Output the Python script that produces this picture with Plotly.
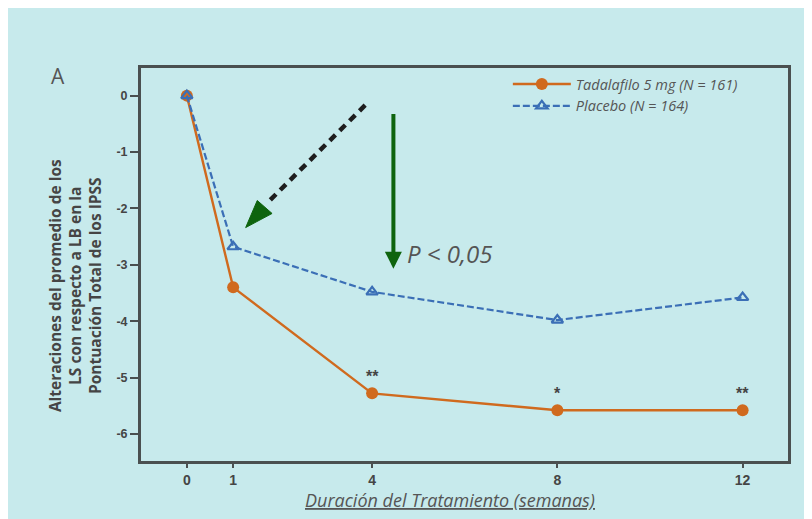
import plotly.graph_objects as go

weeks = [0, 1, 4, 8, 12]
tadalafil = [0.0, -3.4, -5.28, -5.58, -5.58]
placebo = [0.0, -2.68, -3.48, -3.98, -3.58]
tad_name = "Tadalafilo 5 mg (N = 161)"
pla_name = "Placebo (N = 164)"
sig_weeks = [4, 8, 12]
sig_marks = ["**", "*", "**"]
y_ticks = [0, -1, -2, -3, -4, -5, -6]

BG = "#c7eaec"
ORANGE = "#d06a1e"
BLUE = "#3b6fb6"
GREEN = "#0e640e"
FRAME = "#4a5050"
TXT = "#454545"

fig = go.Figure()
fig.add_trace(go.Scatter(
    x=weeks, y=tadalafil, name="<i>" + tad_name + "</i>", mode="lines+markers",
    line=dict(color=ORANGE, width=2.4),
    marker=dict(symbol="circle", size=12, color=ORANGE),
))
fig.add_trace(go.Scatter(
    x=weeks, y=placebo, name="<i>" + pla_name + "</i>", mode="lines+markers",
    line=dict(color=BLUE, width=2.2, dash="7px,3px"),
    marker=dict(symbol="triangle-up-open", size=10, color=BLUE, line=dict(width=2.2)),
))

# significance asterisks
for w, s in zip(sig_weeks, sig_marks):
    fig.add_annotation(x=w, y=tadalafil[weeks.index(w)], xref="x", yref="y",
                       text="<b>" + s + "</b>", showarrow=False, yshift=17,
                       font=dict(family="Liberation Sans", size=16, color="#444444"))

# black dashed arrow line with green head
fig.add_shape(type="line", xref="x", yref="y",
              x0=3.85, y0=-0.17, x1=1.74, y1=-1.90,
              line=dict(color="#1e1e1e", width=4.5, dash="8px,6px"))
fig.add_shape(type="path", xref="x", yref="y",
              path="M 1.27,-2.34 L 1.52,-1.86 L 1.84,-2.09 Z",
              fillcolor=GREEN, line=dict(color=GREEN, width=1))

# green vertical arrow
fig.add_annotation(x=4.46, y=-3.07, ax=4.46, ay=-0.30, xref="x", yref="y",
                   axref="x", ayref="y", text="", showarrow=True,
                   arrowhead=2, arrowsize=0.85, arrowwidth=4, arrowcolor=GREEN)
fig.add_annotation(x=4.7, y=-2.8, xref="x", yref="y", text="<i>P < 0,05</i>",
                   showarrow=False, xanchor="left", yanchor="middle",
                   font=dict(family="Open Sans", size=24, color="#555555"))

# panel letter
fig.add_annotation(x=-0.128, y=0.98, xref="paper", yref="paper", text="A",
                   showarrow=False, xanchor="center", yanchor="middle",
                   font=dict(family="Open Sans", size=21, color="#555555"))

# y axis title
fig.add_annotation(x=-0.102, y=0.445, xref="paper", yref="paper", textangle=-90,
                   text="<b>Alteraciones del promedio de los<br>LS con respecto a LB en la<br>Pontuación Total de los IPSS</b>",
                   showarrow=False, xanchor="center", yanchor="middle",
                   font=dict(family="Open Sans", size=15.5, color=TXT))

# x axis title
fig.add_annotation(x=0.478, y=-0.064, xref="paper", yref="paper",
                   text="<i><u>Duración del Tratamiento (semanas)</u></i>",
                   showarrow=False, xanchor="center", yanchor="top",
                   font=dict(family="Open Sans", size=18, color="#555555"))

# outer border
fig.add_shape(type="rect", xref="paper", yref="paper", layer="below",
              x0=-0.209, y0=-0.3, x1=1.1, y1=1.155,
              line=dict(color="#d08a70", width=1.5), fillcolor="rgba(0,0,0,0)")

fig.update_layout(
    width=804, height=511,
    margin=dict(l=133, r=24, t=60, b=58),
    paper_bgcolor=BG, plot_bgcolor=BG,
    showlegend=True,
    legend=dict(x=0.567, y=1.0, xanchor="left", yanchor="top",
                bgcolor="rgba(0,0,0,0)", tracegroupgap=0, itemwidth=58,
                font=dict(family="Open Sans", size=14.5, color="#555555")),
    xaxis=dict(range=[-0.99, 12.98], tickvals=weeks,
               ticktext=["<b>%d</b>" % w for w in weeks],
               showgrid=False, zeroline=False, showline=True, mirror=True,
               linecolor=FRAME, linewidth=3, ticks="outside", ticklen=4,
               tickcolor=FRAME, tickwidth=1.5,
               tickfont=dict(family="Liberation Sans", size=14, color=TXT)),
    yaxis=dict(range=[-6.48, 0.49], tickvals=y_ticks,
               ticktext=["<b>%d</b>" % v for v in y_ticks],
               showgrid=False, zeroline=False, showline=True, mirror=True,
               linecolor=FRAME, linewidth=3, ticks="outside", ticklen=8,
               tickcolor=FRAME, tickwidth=1.5,
               tickfont=dict(family="Liberation Sans", size=12.5, color=TXT)),
)

fig.write_html("out.html")
